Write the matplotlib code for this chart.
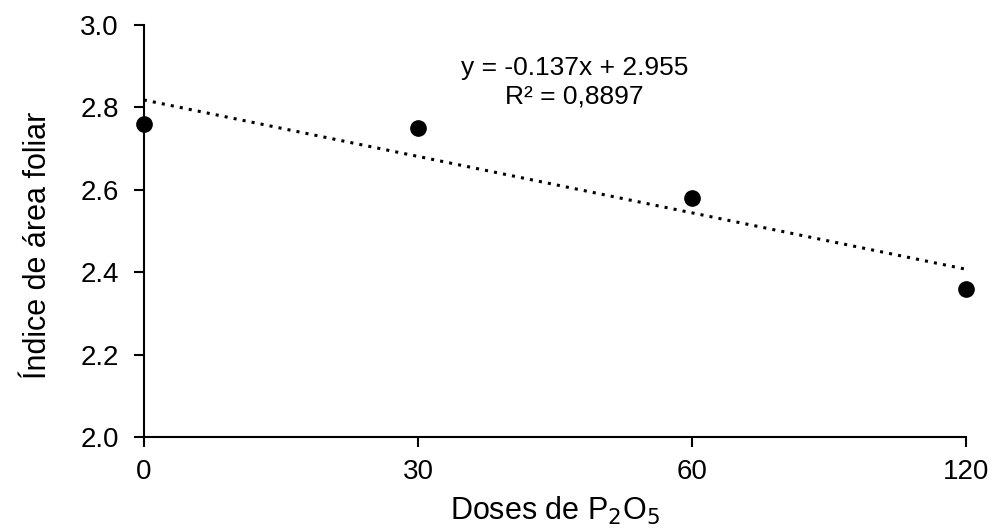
import matplotlib
matplotlib.use("Agg")
import matplotlib.pyplot as plt
import numpy as np

plt.rcParams['font.family'] = ['Liberation Sans', 'DejaVu Sans']

doses = ["0", "30", "60", "120"]
iaf = [2.76, 2.75, 2.58, 2.36]
slope = -0.137
intercept = 2.955
eq_line1 = "y = -0.137x + 2.955"
eq_line2 = "R² = 0,8897"

fig = plt.figure(figsize=(9.92, 5.31), dpi=100)
ax = fig.add_axes([0.145, 0.177, 0.829, 0.776])

x = np.arange(1, len(doses) + 1)
ax.plot(x, iaf, 'o', color='black', markersize=11, zorder=3, clip_on=False)
ax.plot(x, slope * x + intercept, linestyle=(0, (1, 2)), color='black', linewidth=2.2)

ax.set_xlim(1, 4)
ax.set_ylim(2.0, 3.0)
ax.set_xticks(x)
ax.set_xticklabels(doses)
ax.set_yticks(np.arange(2.0, 3.01, 0.2))
ax.set_yticklabels(["2.0", "2.2", "2.4", "2.6", "2.8", "3.0"])
ax.tick_params(axis='both', labelsize=20, direction='out', length=7, width=1.5)
ax.tick_params(axis='y', pad=11)
ax.tick_params(axis='x', pad=9)
for s in ['top', 'right']:
    ax.spines[s].set_visible(False)
for s in ['left', 'bottom']:
    ax.spines[s].set_linewidth(1.5)

ax.set_ylabel("Índice de área foliar", fontsize=22)
ax.yaxis.set_label_coords(-0.110, 0.465)
ax.set_xlabel("Doses de P$_2$O$_5$", fontsize=22, labelpad=7)

ax.text(2.57, 2.896, eq_line1, ha='center', va='center', fontsize=19)
ax.text(2.57, 2.826, eq_line2, ha='center', va='center', fontsize=19)

fig.savefig("out.png", dpi=100)
